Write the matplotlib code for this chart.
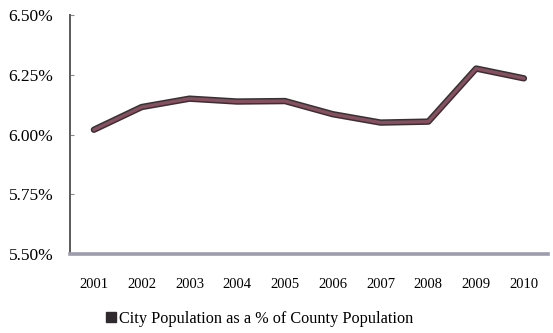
import matplotlib
matplotlib.use("Agg")
import matplotlib.pyplot as plt
from matplotlib.lines import Line2D
from matplotlib.ticker import FuncFormatter

years = ["2001", "2002", "2003", "2004", "2005", "2006", "2007", "2008", "2009", "2010"]
city_share = [6.02, 6.115, 6.15, 6.138, 6.14, 6.085, 6.05, 6.054, 6.276, 6.235]
y_ticks = [5.50, 5.75, 6.00, 6.25, 6.50]

plt.rcParams["font.family"] = ["Liberation Serif", "DejaVu Serif"]

fig = plt.figure(figsize=(5.53, 3.33), dpi=100)
ax = fig.add_axes([0.1266, 0.237, 0.864, 0.718])

x = list(range(len(years)))
# dark outline under a maroon core for the series line
ax.plot(x, city_share, color="#3a3034", lw=4.6, solid_capstyle="round", zorder=3)
ax.plot(x, city_share, color="#855060", lw=2.4, solid_capstyle="round", zorder=4)

ax.set_xlim(-0.5, len(years) - 0.5)
ax.set_ylim(5.50, 6.50)
ax.set_yticks(y_ticks)
ax.yaxis.set_major_formatter(FuncFormatter(lambda v, p: f"{v:.2f}%"))
ax.set_xticks(x)
ax.set_xticklabels(years)

for s in ["top", "right"]:
    ax.spines[s].set_visible(False)
ax.spines["left"].set_color("#5a5a5a")
ax.spines["left"].set_linewidth(1.4)
ax.spines["bottom"].set_color("#9c9cac")
ax.spines["bottom"].set_linewidth(2.6)

ax.tick_params(axis="y", direction="in", length=3, color="#8a8a8a", labelsize=12.5, pad=12)
ax.tick_params(axis="x", length=0, labelsize=10.5, pad=17)

handle = Line2D([], [], marker="s", color="none", markerfacecolor="#2e2a2e",
                markeredgecolor="#2e2a2e", markersize=6.5)
fig.legend([handle], ["City Population as a % of County Population"],
           loc="center", bbox_to_anchor=(0.47, 0.043), frameon=False,
           fontsize=11.7, handlelength=0.6, handletextpad=0.2)

fig.savefig("out.png", dpi=100)
